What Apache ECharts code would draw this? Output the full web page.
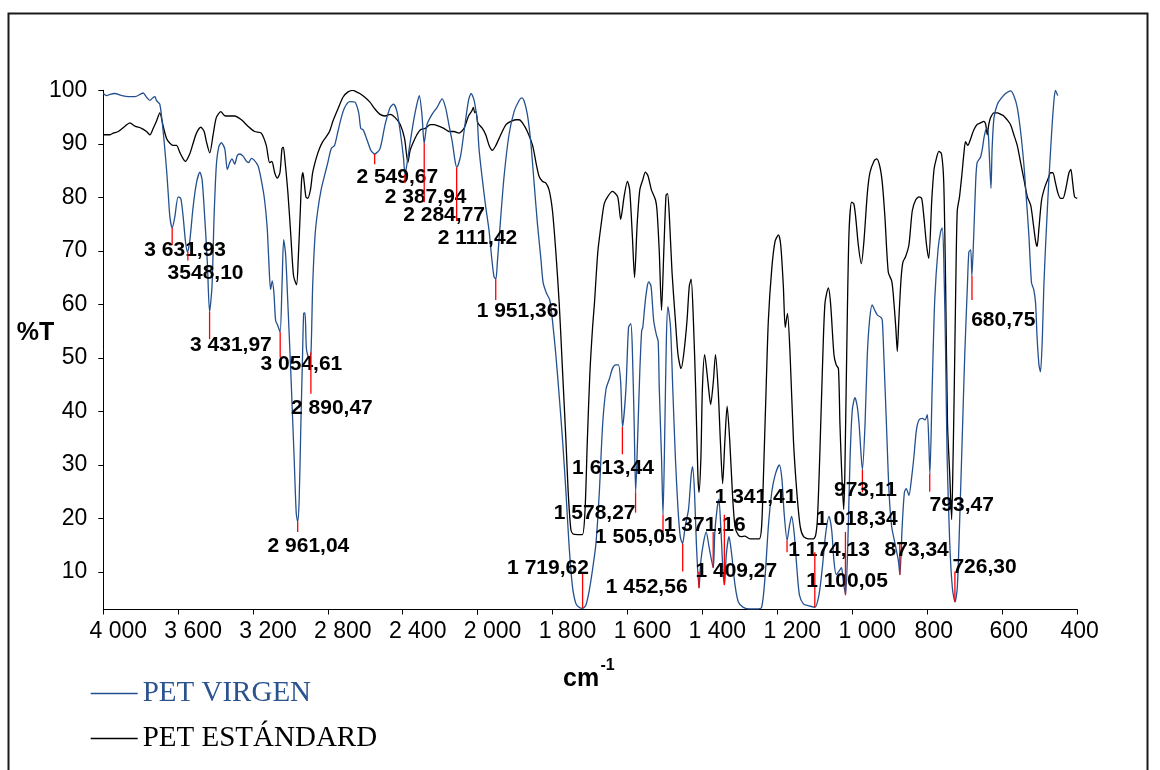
<!DOCTYPE html>
<html>
<head>
<meta charset="utf-8">
<title>Espectro FTIR PET</title>
<script src="https://cdn.jsdelivr.net/npm/echarts@6/dist/echarts.min.js"></script>
<style>
  html, body { margin: 0; padding: 0; background: #ffffff; }
  #chart { width: 1160px; height: 770px; }
</style>
</head>
<body>
<div id="chart"></div>
<script>
// Transmittance spectra, [wavenumber cm-1, %T], ordered from 4000 down to 400.
const petVirgen = [
  [4000,99.4],[3982,99.0],[3960,99.3],[3938,99.4],[3900,99.0],[3867,98.8],[3831,98.8],[3787,99.5],
  [3769,98.7],[3751,98.1],[3735,98.6],[3724,98.8],[3716,98.1],[3698,97.4],[3680,92.3],[3662,85.2],
  [3653,80.7],[3644,76.3],[3632,74.3],[3618,76.3],[3600,80.1],[3586,79.8],[3573,76.3],[3561,71.8],
  [3550,69.8],[3538,71.8],[3520,78.2],[3502,82.7],[3484,84.7],[3472,83.3],[3458,76.3],[3444,67.9],
  [3432,58.6],[3419,63.4],[3408,76.3],[3396,85.9],[3383,89.4],[3369,90.2],[3351,89.1],[3337,85.2],
  [3324,86.5],[3312,87.2],[3298,86.2],[3284,87.8],[3271,88.1],[3253,87.7],[3236,86.8],[3223,86.5],
  [3209,87.3],[3195,87.0],[3173,85.9],[3156,83.3],[3138,79.5],[3124,74.3],[3116,68.6],[3106,62.8],
  [3097,64.4],[3088,62.1],[3079,57.0],[3067,56.0],[3055,54.8],[3045,63.4],[3036,72.1],[3026,69.5],
  [3016,62.1],[2998,47.4],[2980,31.3],[2969,21.1],[2961,19.4],[2953,23.6],[2944,37.7],[2935,50.6],
  [2929,58.3],[2922,58.4],[2915,51.9],[2908,50.6],[2899,49.9],[2890,51.0],[2881,63.4],[2868,73.0],
  [2854,77.5],[2836,81.4],[2818,84.0],[2800,86.5],[2782,89.1],[2764,89.7],[2746,92.3],[2728,94.9],
  [2710,96.8],[2683,97.9],[2656,97.8],[2635,95.8],[2624,92.9],[2611,92.6],[2593,91.0],[2570,88.8],
  [2550,88.1],[2521,89.1],[2494,93.6],[2467,96.8],[2449,97.4],[2431,96.1],[2413,92.3],[2395,87.2],
  [2388,84.3],[2378,86.0],[2365,89.1],[2342,94.2],[2324,97.4],[2311,99.0],[2297,95.5],[2285,90.1],
  [2270,93.6],[2243,95.5],[2216,96.8],[2189,98.4],[2171,96.8],[2153,93.6],[2135,90.4],[2120,86.8],
  [2111,85.6],[2090,87.8],[2072,92.3],[2048,98.1],[2034,99.4],[2018,98.1],[2000,94.2],
  [1996,89.1],[1987,83.3],[1978,78.2],[1969,73.7],[1962,68.6],[1956,65.2],[1951,64.7],[1947,67.9],
  [1938,76.3],[1929,84.0],[1916,91.7],[1902,96.1],[1889,98.1],[1882,98.6],[1876,98.1],[1867,95.5],
  [1858,90.4],[1849,82.7],[1840,75.0],[1831,68.6],[1825,64.1],[1816,62.1],[1807,60.8],[1800,57.0],
  [1791,50.6],[1782,42.9],[1773,34.6],[1764,24.9],[1756,15.3],[1747,7.5],[1738,4.2],[1729,3.4],
  [1720,3.2],[1711,3.8],[1702,6.5],[1693,10.5],[1684,15.3],[1675,24.9],[1666,37.7],[1657,44.2],
  [1648,46.1],[1640,48.0],[1631,48.7],[1624,48.7],[1618,45.4],[1613,37.1],[1604,44.2],[1597,55.7],
  [1591,56.4],[1587,51.9],[1582,37.7],[1578,24.9],[1573,34.5],[1567,47.4],[1562,55.1],[1559,55.7],
  [1553,60.2],[1547,63.4],[1543,64.2],[1537,63.4],[1530,57.0],[1523,54.4],[1518,53.1],[1515,44.2],
  [1509,31.3],[1505,20.7],[1500,37.7],[1496,53.8],[1492,59.6],[1485,55.7],[1479,44.2],[1472,31.3],
  [1465,21.7],[1459,16.6],[1453,15.3],[1446,18.5],[1437,21.7],[1430,28.1],[1426,29.7],[1421,24.9],
  [1416,15.3],[1409,7.0],[1404,12.1],[1397,15.5],[1390,17.5],[1382,14.6],[1371,10.8],[1367,17.2],
  [1361,21.7],[1356,23.6],[1351,18.5],[1345,10.1],[1341,7.6],[1336,13.4],[1329,16.6],[1322,13.4],
  [1313,7.6],[1304,4.4],[1291,3.4],[1273,3.1],[1255,3.1],[1242,3.4],[1233,8.9],[1224,18.5],
  [1215,24.9],[1206,28.1],[1195,30.0],[1188,27.5],[1182,21.1],[1174,15.9],[1168,18.5],[1162,20.4],
  [1155,17.2],[1148,10.8],[1141,5.7],[1130,4.0],[1117,3.7],[1100,3.4],[1089,5.7],[1080,10.8],
  [1071,17.2],[1062,20.4],[1055,17.8],[1049,12.1],[1043,9.5],[1036,10.1],[1029,10.8],[1024,8.2],
  [1018,5.7],[1012,15.3],[1006,31.3],[1000,40.3],[993,42.6],[987,41.0],[982,37.7],[976,31.3],
  [973,29.1],[966,37.7],[960,50.6],[954,57.0],[947,59.9],[940,58.9],[933,58.0],[924,57.6],
  [920,57.0],[916,50.6],[909,37.7],[902,24.9],[895,18.5],[884,14.6],[877,12.1],[873,9.5],
  [867,18.5],[861,24.9],[856,25.6],[849,24.3],[842,27.5],[836,31.3],[829,36.5],[822,38.4],
  [813,38.7],[806,38.4],[800,39.4],[796,34.5],[793,28.3],[787,44.2],[780,61.0],[771,70.5],
  [764,73.7],[760,74.3],[756,68.6],[751,50.6],[747,31.3],[740,15.3],[733,7.0],[726,4.4],
  [720,7.0],[714,18.5],[707,34.5],[700,50.6],[693,63.4],[689,69.8],[684,70.2],[681,65.3],
  [676,73.0],[671,82.7],[667,86.5],[658,87.5],[653,89.1],[649,91.0],[644,92.6],[640,92.9],
  [637,91.7],[634,87.2],[630,81.7],[627,89.1],[622,94.9],[613,97.4],[604,98.4],[591,99.4],
  [578,99.9],[569,99.0],[560,96.8],[551,92.3],[542,85.9],[536,80.1],[529,73.0],[522,64.1],
  [516,62.8],[511,60.2],[507,53.8],[502,48.7],[498,47.4],[493,53.8],[489,63.4],[483,73.0],
  [476,82.7],[468,92.3],[462,98.1],[458,100.0],[452,99.0]
];

const petEstandard = [
  [4000,91.7],[3964,91.7],[3947,92.0],[3920,92.3],[3884,93.3],[3858,93.9],[3831,93.3],[3796,92.9],
  [3769,92.3],[3751,91.7],[3733,92.9],[3716,94.2],[3698,95.8],[3680,93.3],[3662,91.0],[3644,90.1],
  [3627,89.7],[3609,89.7],[3591,88.4],[3573,87.2],[3561,86.7],[3538,88.1],[3520,90.1],[3502,92.0],
  [3479,93.1],[3461,92.3],[3449,90.4],[3431,88.3],[3413,91.7],[3396,94.9],[3372,96.0],[3348,95.2],
  [3298,95.2],[3262,94.5],[3227,93.3],[3191,92.3],[3156,92.0],[3129,89.7],[3111,86.5],[3099,86.7],
  [3084,84.6],[3070,83.6],[3056,84.6],[3045,89.1],[3038,89.4],[3028,86.5],[3013,80.7],[2998,73.0],
  [2983,65.3],[2967,63.7],[2958,68.6],[2947,77.5],[2940,83.3],[2933,84.6],[2926,82.7],[2917,80.1],
  [2908,79.8],[2893,81.4],[2881,84.6],[2863,87.2],[2845,89.1],[2827,90.4],[2809,91.3],[2791,92.3],
  [2773,94.2],[2746,96.5],[2719,98.7],[2692,99.7],[2665,100.0],[2647,99.7],[2629,99.4],[2602,98.7],
  [2575,97.8],[2548,96.5],[2521,95.5],[2494,95.2],[2467,95.5],[2440,94.9],[2413,93.6],[2390,91.0],
  [2372,86.5],[2360,88.8],[2342,90.4],[2324,91.7],[2306,92.6],[2279,92.9],[2252,93.6],[2234,93.6],
  [2207,93.3],[2180,92.9],[2153,92.3],[2126,92.3],[2099,92.0],[2072,92.9],[2048,95.2],[2031,96.1],
  [2022,96.8],[2015,95.8],[2009,96.0],[2000,94.0],
  [1996,93.6],[1987,92.9],[1978,91.7],[1969,89.7],[1960,88.8],[1951,89.7],[1938,91.7],[1924,93.6],
  [1911,94.2],[1898,94.5],[1889,94.5],[1880,93.9],[1867,92.3],[1853,89.7],[1844,86.5],[1836,84.0],
  [1827,83.0],[1818,82.7],[1809,81.4],[1800,77.5],[1791,69.8],[1782,60.2],[1773,47.4],[1764,34.5],
  [1758,24.9],[1751,18.0],[1745,17.1],[1733,17.0],[1720,17.0],[1713,21.7],[1707,34.5],[1700,47.4],
  [1693,55.7],[1688,60.2],[1679,69.8],[1670,75.0],[1662,78.8],[1653,80.1],[1640,81.1],[1626,80.1],
  [1618,75.9],[1609,80.1],[1600,83.0],[1594,81.4],[1587,73.0],[1581,65.0],[1574,75.0],[1567,81.4],
  [1559,83.3],[1552,84.7],[1545,84.0],[1536,81.4],[1525,79.5],[1521,77.5],[1515,69.8],[1509,58.9],
  [1503,69.8],[1497,80.4],[1493,80.7],[1488,76.3],[1481,66.0],[1472,57.0],[1465,50.6],[1457,48.0],
  [1450,50.6],[1441,57.0],[1435,63.4],[1430,64.7],[1424,57.0],[1418,44.2],[1412,28.1],[1409,24.9],
  [1404,31.3],[1400,44.2],[1394,50.6],[1385,45.4],[1378,41.3],[1371,45.4],[1365,50.6],[1358,44.2],
  [1352,34.5],[1346,26.5],[1340,34.5],[1334,41.0],[1327,34.5],[1320,24.9],[1313,18.5],[1304,16.9],
  [1296,16.6],[1287,16.7],[1273,16.2],[1260,16.2],[1248,16.2],[1242,18.5],[1237,28.1],[1230,44.2],
  [1224,57.0],[1215,66.6],[1206,71.8],[1197,73.0],[1191,71.1],[1184,63.4],[1179,55.7],[1173,58.3],
  [1166,50.6],[1157,34.5],[1148,24.9],[1139,18.5],[1130,16.6],[1117,16.2],[1104,16.2],[1098,16.8],
  [1093,20.0],[1087,31.3],[1080,47.4],[1073,60.2],[1064,63.1],[1058,60.2],[1049,50.6],[1043,48.7],
  [1037,48.0],[1033,37.7],[1028,28.1],[1023,21.7],[1020,28.1],[1015,50.6],[1009,73.0],[1002,79.1],
  [996,78.8],[991,76.3],[984,71.1],[976,67.6],[969,71.8],[960,80.7],[953,84.6],[942,86.8],
  [935,87.2],[927,85.9],[920,82.7],[913,76.3],[904,66.0],[895,64.4],[891,62.1],[884,55.7],
  [880,51.2],[876,57.0],[870,64.7],[865,67.9],[858,68.9],[849,71.1],[840,77.5],[831,79.5],
  [822,80.1],[815,79.8],[809,76.3],[802,71.1],[796,68.6],[788,79.5],[782,85.2],[776,87.2],
  [769,88.6],[762,88.1],[756,82.7],[751,63.4],[746,37.7],[740,28.1],[735,19.8],[732,28.1],
  [728,44.2],[724,63.4],[720,77.5],[714,80.1],[708,84.0],[702,88.4],[698,90.4],[692,89.7],
  [684,91.0],[676,92.6],[667,93.6],[658,93.9],[649,94.2],[644,93.6],[640,91.7],[636,93.6],
  [631,94.9],[622,95.8],[613,95.8],[604,95.5],[596,95.2],[587,94.5],[578,93.6],[569,91.7],
  [560,89.7],[551,86.5],[542,83.3],[533,80.1],[524,78.5],[517,75.0],[511,71.8],[507,70.8],
  [502,74.3],[495,79.5],[486,82.0],[477,83.6],[471,84.6],[465,84.6],[458,82.7],[451,80.7],
  [444,79.8],[438,79.8],[431,81.4],[422,84.6],[417,85.2],[412,82.7],[407,80.1],[400,79.8]
];

// Picked peaks: printed wavenumber, %T where the red tick leaves the curve, %T at its other end.
const peakLabels = [
  '3 631,93','3548,10','3 431,97','3 054,61','2 890,47','2 961,04','2 549,67','2 387,94','2 284,77',
  '2 111,42','1 951,36','1 719,62','1 613,44','1 578,27','1 505,05','1 452,56','1 409,27','1 371,16',
  '1 341,41','1 174,13','1 100,05','1 018,34','973,11','873,34','793,47','726,30','680,75'
];
const peakTickStart = [
  74.3, 69.8, 58.6, 54.8, 51.0, 19.4, 88.1, 84.3, 90.1,
  85.6, 64.7, 3.3, 37.1, 24.9, 20.7, 15.3, 7.0, 10.8,
  7.6, 15.9, 3.4, 5.7, 29.1, 9.5, 28.3, 4.4, 65.3
];
const peakTickEnd = [
  71.1, 68.2, 53.5, 50.1, 43.3, 17.5, 86.2, 82.7, 79.1,
  75.6, 60.8, 9.8, 32.0, 21.1, 17.5, 10.1, 10.1, 17.5,
  20.7, 13.7, 13.7, 17.5, 24.9, 15.6, 25.0, 10.1, 60.8
];
// Label placement relative to the tick start, in pixels.
const peakLabelOffset = [
  [13,22.5],[17.7,21],[21.3,33.3],[21.2,32.3],[21,55.5],[10.7,24.3],[22.6,23.2],[20.7,22.5],[19.9,72.4],
  [20.9,70.6],[21.8,31.7],[-34.6,-39.9],[-9.4,41.1],[-40.9,21.4],[-27.2,22.9],[-36,43.9],[37.4,-16.7],[-8.5,-42.7],
  [31.2,-87.3],[42,9.3],[32.2,-25.7],[11.3,-76.2],[3.1,20.8],[16.9,-25],[32,31],[29.6,-35.1],[31.3,44.5]
];

// Axis ticks
const yTickValues = [10, 20, 30, 40, 50, 60, 70, 80, 90, 100];
const BREAK_WN = 2000; // the scale doubles below 2000 cm-1

const SANS = '"Liberation Sans", Arial, Helvetica, sans-serif';
const SERIF = '"Liberation Serif", "Times New Roman", serif';
const BLUE = '#24508f';

function labelValue(s) {
  return parseFloat(s.replace(/\s/g, '').replace(',', '.'));
}
function groupThousands(v) {
  const s = String(Math.round(v));
  return s.length > 3 ? s.slice(0, -3) + ' ' + s.slice(-3) : s;
}
function tickText(v) {
  const cls = v >= 1000 ? 'w' : (v <= 400 ? 'n' : 's');
  return '{' + cls + '|' + groupThousands(v) + '}';
}
const tickFont = { fontFamily: SANS, fontSize: 23, color: '#000' };
const tickRich = {
  w: Object.assign({ padding: [0, 0, 0, 30] }, tickFont),
  s: Object.assign({ padding: [0, 0, 0, 13] }, tickFont),
  n: Object.assign({ padding: [0, 0, 0, 5] }, tickFont)
};

const peaks = peakLabels.map((s, i) => [labelValue(s), peakTickStart[i], peakTickEnd[i], i]);

function renderPeak(params, api) {
  const i = api.value(3);
  const p0 = api.coord([api.value(0), api.value(1)]);
  const p1 = api.coord([api.value(0), api.value(2)]);
  const off = peakLabelOffset[i];
  return {
    type: 'group',
    children: [
      { type: 'line', shape: { x1: p0[0], y1: p0[1], x2: p1[0], y2: p1[1] },
        style: { stroke: '#ff0000', lineWidth: 1.3 } },
      { type: 'text', x: p0[0] + off[0], y: p0[1] + off[1],
        style: { text: peakLabels[i], font: 'bold 21px ' + SANS, fill: '#000',
                 align: 'center', verticalAlign: 'middle' } }
    ]
  };
}

const gridTop = 90.3, gridHeight = 519.2;

function xAxisCfg(gridIndex, min, max, interval, hideValue) {
  return {
    gridIndex, type: 'value', min, max, interval, inverse: true,
    axisLine: { show: true, onZero: false, lineStyle: { color: '#000', width: 1 } },
    axisTick: { show: true, length: 5, lineStyle: { color: '#000' } },
    splitLine: { show: false },
    axisLabel: {
      show: true, showMinLabel: true, showMaxLabel: true, margin: 11,
      formatter: v => (v === hideValue ? '' : tickText(v)),
      rich: tickRich, fontFamily: SANS, fontSize: 23, color: '#000'
    }
  };
}

function lineSeries(name, color, data, idx) {
  return {
    name, type: 'line', xAxisIndex: idx, yAxisIndex: idx,
    data, showSymbol: false, symbol: 'none', smooth: 0.25,
    color, lineStyle: { color, width: 1.3 }, z: 2, animation: false
  };
}

const upper = arr => arr.filter(p => p[0] >= BREAK_WN);
const lower = arr => arr.filter(p => p[0] <= BREAK_WN);

const chart = echarts.init(document.getElementById('chart'), null, { renderer: 'canvas' });
chart.setOption({
  animation: false,
  backgroundColor: '#ffffff',
  grid: [
    { left: 103.3, top: gridTop, width: 374.2, height: gridHeight, containLabel: false },
    { left: 477.5, top: gridTop, width: 599.7, height: gridHeight, containLabel: false }
  ],
  xAxis: [
    xAxisCfg(0, 2000, 4000, 400, 2000),
    xAxisCfg(1, 400, 2000, 200, null)
  ],
  yAxis: [
    {
      gridIndex: 0, type: 'value', min: 3, max: 100,
      axisLine: { show: true, lineStyle: { color: '#000', width: 1 } },
      axisTick: { show: true, length: 5, customValues: yTickValues, lineStyle: { color: '#000' } },
      splitLine: { show: false },
      axisLabel: { show: true, customValues: yTickValues, margin: 16,
                   fontFamily: SANS, fontSize: 23, color: '#000' }
    },
    { gridIndex: 1, type: 'value', min: 3, max: 100, show: false, splitLine: { show: false } }
  ],
  legend: {
    orient: 'vertical', left: 90.7, top: 679, padding: 0,
    icon: 'rect', itemWidth: 47, itemHeight: 1.6, itemGap: 16,
    selectedMode: false,
    textStyle: { fontFamily: SERIF, fontSize: 29, lineHeight: 29, color: '#000' },
    data: [
      { name: 'PET VIRGEN', textStyle: { color: '#2b548f' } },
      { name: 'PET ESTÁNDARD', textStyle: { color: '#000' } }
    ]
  },
  graphic: [
    { type: 'rect', shape: { x: 8.5, y: 13.5, width: 1139, height: 775 },
      style: { fill: 'none', stroke: '#1a1a1a', lineWidth: 2 }, silent: true },
    { type: 'text', x: 16.7, y: 333,
      style: { text: '%T', font: 'bold 25px ' + SANS, fill: '#000', verticalAlign: 'middle' } },
    { type: 'text', x: 563, y: 679,
      style: { text: 'cm', font: 'bold 25px ' + SANS, fill: '#000', verticalAlign: 'middle' } },
    { type: 'text', x: 600.5, y: 666,
      style: { text: '-1', font: 'bold 16px ' + SANS, fill: '#000', verticalAlign: 'middle' } }
  ],
  series: [
    lineSeries('PET ESTÁNDARD', '#000000', upper(petEstandard), 0),
    lineSeries('PET ESTÁNDARD', '#000000', lower(petEstandard), 1),
    lineSeries('PET VIRGEN', BLUE, upper(petVirgen), 0),
    lineSeries('PET VIRGEN', BLUE, lower(petVirgen), 1),
    { type: 'custom', xAxisIndex: 0, yAxisIndex: 0, renderItem: renderPeak, clip: false, z: 5,
      data: peaks.filter(p => p[0] >= BREAK_WN), silent: true },
    { type: 'custom', xAxisIndex: 1, yAxisIndex: 1, renderItem: renderPeak, clip: false, z: 5,
      data: peaks.filter(p => p[0] < BREAK_WN), silent: true }
  ]
});
</script>
</body>
</html>
